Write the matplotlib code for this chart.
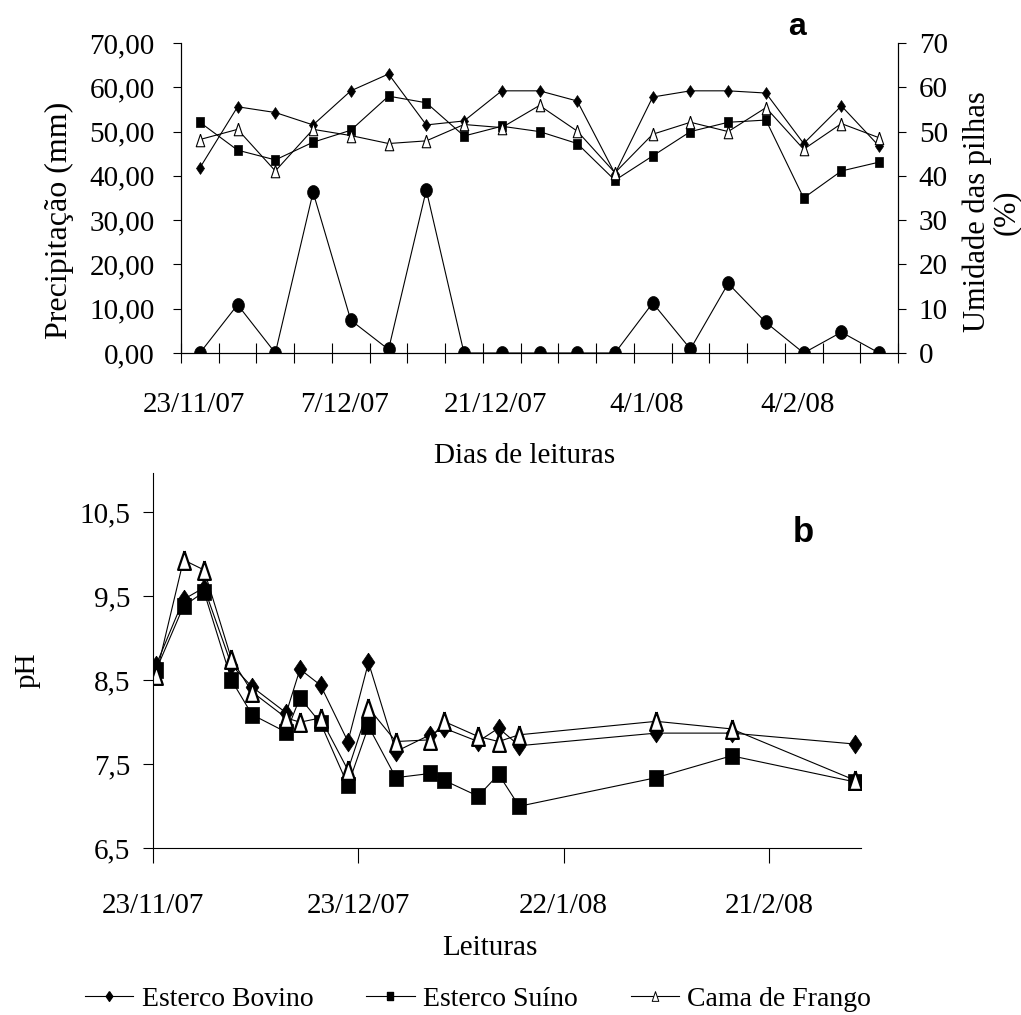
import matplotlib
matplotlib.use("Agg")
import matplotlib.pyplot as plt
from matplotlib.lines import Line2D
from matplotlib.transforms import ScaledTranslation
import numpy as np
import pandas as pd

plt.rcParams['font.family'] = ['Liberation Serif', 'DejaVu Serif']

# reading dates (same readings in both panels)
dates = ["23/11/07", "27/11/07", "30/11/07", "4/12/07", "7/12/07", "12/12/07",
         "14/12/07", "17/12/07", "21/12/07", "24/12/07", "28/12/07", "2/1/08",
         "4/1/08", "9/1/08", "12/1/08", "15/1/08", "4/2/08", "15/2/08", "4/3/08"]

# panel a: precipitation (mm) and pile moisture (%)
precip = [0, 10.9, 0, 36.3, 7.4, 0.8, 36.8, 0, 0, 0, 0, 0,
          11.3, 0.9, 15.7, 6.9, 0, 4.7, 0]
umid_bovino = [41.8, 55.6, 54.3, 51.5, 59.2, 63.0, 51.5, 52.4, 59.2, 59.2,
               56.9, 40.5, 57.8, 59.2, 59.2, 58.7, 47.3, 55.8, 46.7]
umid_suino = [52.1, 45.8, 43.6, 47.6, 50.3, 58.0, 56.5, 49.0, 51.2, 50.0,
              47.3, 39.0, 44.5, 50.0, 52.1, 52.6, 35.0, 41.1, 43.1]
umid_frango = [48.2, 50.5, 41.1, 50.5, 49.1, 47.3, 47.9, 51.6, 50.9, 55.9,
               50.1, 40.7, 49.4, 52.1, 50.0, 55.4, 46.0, 51.8, 48.6]

# panel b: pH
ph_bovino = [8.68, 9.46, 9.60, 8.68, 8.42, 8.11, 8.63, 8.44, 7.77, 8.71,
             7.65, 7.85, 7.93, 7.77, 7.93, 7.72, 7.87, 7.87, 7.74]
ph_suino = [8.62, 9.38, 9.55, 8.50, 8.09, 7.88, 8.29, 7.99, 7.25, 7.95,
            7.34, 7.39, 7.31, 7.12, 7.38, 7.00, 7.34, 7.60, 7.29]
ph_frango = [8.56, 9.93, 9.81, 8.75, 8.36, 8.05, 8.00, 8.05, 7.43, 8.17,
             7.77, 7.79, 8.01, 7.83, 7.77, 7.85, 8.01, 7.92, 7.31]

series = ["Esterco Bovino", "Esterco Suíno", "Cama de Frango"]

# tall markers (the original figure is stretched vertically)
diam = [(0, 1), (0.68, 0), (0, -1), (-0.68, 0), (0, 1)]
sq = [(-0.78, -1), (0.78, -1), (0.78, 1), (-0.78, 1), (-0.78, -1)]
tri = [(0, 1), (0.68, -1), (-0.68, -1), (0, 1)]
t = np.linspace(0, 2 * np.pi, 40)
ell = list(zip(0.85 * np.cos(t), np.sin(t)))

W, H = 1021, 1015
fig = plt.figure(figsize=(W / 100, H / 100), dpi=100)

# ---------- panel a ----------
ax1 = fig.add_axes([181 / W, 1 - 353 / H, 717 / W, 310 / H])
ax1r = ax1.twinx()
cats = np.arange(len(dates))

ax1.plot(cats, precip, color='k', lw=0.8, marker=ell, ms=10, mfc='k', mec='k', mew=0.5)
ax1r.plot(cats, umid_bovino, color='k', lw=0.8, marker=diam, ms=8.5, mfc='k', mec='k', mew=0.5)
ax1r.plot(cats, umid_suino, color='k', lw=0.8, marker=sq, ms=7.5, mfc='k', mec='k', mew=0.5)
ax1r.plot(cats, umid_frango, color='k', lw=0.8, marker=tri, ms=9, mfc='white', mec='k', mew=0.8)

for a in (ax1, ax1r):
    a.set_xlim(-0.5, len(dates) - 0.5)
    a.set_ylim(0, 70)
    a.set_yticks(np.arange(0, 71, 10))
    a.spines['top'].set_visible(False)
    for s in a.spines.values():
        s.set_linewidth(0.8)
ax1.set_yticklabels([f"{v:.2f}".replace('.', ',') for v in range(0, 71, 10)])
ax1r.set_yticklabels([str(v) for v in range(0, 71, 10)])
ax1.tick_params(axis='y', direction='out', length=6, width=0.8, pad=13, labelsize=21)
ax1r.tick_params(axis='y', direction='out', length=6, width=0.8, pad=9, labelsize=21)

ax1.set_xticks(np.arange(len(dates) + 1) - 0.5)
ax1.set_xticklabels([])
ax1.set_xticks(cats[::4], minor=True)
ax1.set_xticklabels(dates[::4], minor=True)
ax1.tick_params(axis='x', which='major', direction='inout', length=15, width=0.8)
ax1.tick_params(axis='x', which='minor', length=0, pad=28, labelsize=21)
shift = ScaledTranslation(-6 / 100, 0, fig.dpi_scale_trans)
for lbl in ax1.get_xticklabels(minor=True):
    lbl.set_transform(lbl.get_transform() + shift)

fig.text(59 / W, 1 - 220 / H, "Precipitação (mm)", rotation=90, ha='center', va='center', fontsize=23)
fig.text(992 / W, 1 - 212 / H, "Umidade das pilhas\n(%)", rotation=90, ha='center', va='center',
         fontsize=22, linespacing=1.0)
fig.text(525 / W, 1 - 463 / H, "Dias de leituras", ha='center', va='baseline', fontsize=21)
fig.text(797 / W, 1 - 27 / H, "a", ha='center', va='center', fontsize=23,
         family='Liberation Sans', fontweight='bold')

# ---------- panel b ----------
ax2 = fig.add_axes([152.7 / W, 1 - 848.3 / H, 708.3 / W, 375 / H])
t0 = pd.Timestamp(2007, 11, 23)
days = pd.to_datetime(dates, format="%d/%m/%y") + pd.Timedelta(hours=12)

ax2.plot(days, ph_bovino, color='k', lw=0.8, marker=diam, ms=13.5, mfc='k', mec='k', mew=0.5)
ax2.plot(days, ph_suino, color='k', lw=0.8, marker=sq, ms=12, mfc='k', mec='k', mew=0.5)
ax2.plot(days, ph_frango, color='k', lw=0.8, marker=tri, ms=13.5, mfc='white', mec='k', mew=1.6)

ax2.set_xlim(t0, t0 + pd.Timedelta(days=103.4))
ax2.set_ylim(6.5, 10.96)
yt = np.arange(6.5, 10.6, 1.0)
ax2.set_yticks(yt)
ax2.set_yticklabels([f"{v:.1f}".replace('.', ',') for v in yt])
xt = [t0 + pd.Timedelta(days=30 * k) for k in range(4)]
ax2.set_xticks(xt)
ax2.set_xticklabels([f"{d.day}/{d.month}/{d:%y}" for d in xt])
ax2.spines['top'].set_visible(False)
ax2.spines['right'].set_visible(False)
for s in ax2.spines.values():
    s.set_linewidth(0.8)
ax2.tick_params(axis='y', direction='out', length=7, width=0.8, pad=9, labelsize=21)
ax2.tick_params(axis='x', direction='out', length=11, width=0.8, pad=21, labelsize=21)

fig.text(28 / W, 1 - 670 / H, "pH", rotation=90, ha='center', va='center', fontsize=21)
fig.text(490 / W, 1 - 955 / H, "Leituras", ha='center', va='baseline', fontsize=21)
fig.text(803 / W, 1 - 532 / H, "b", ha='center', va='center', fontsize=25,
         family='Liberation Sans', fontweight='bold')

# legend
handles = [
    Line2D([], [], color='k', lw=0.8, marker=diam, ms=7, mfc='k', mec='k'),
    Line2D([], [], color='k', lw=0.8, marker=sq, ms=6, mfc='k', mec='k'),
    Line2D([], [], color='k', lw=0.8, marker=tri, ms=7, mfc='white', mec='k', mew=0.7),
]
fig.legend(handles, series, loc='center', bbox_to_anchor=(478 / W, 1 - 999 / H), ncol=3,
           frameon=False, fontsize=20, handlelength=1.75, handletextpad=0.3,
           columnspacing=1.9, borderaxespad=0, borderpad=0)

fig.savefig("out.png", dpi=100)
